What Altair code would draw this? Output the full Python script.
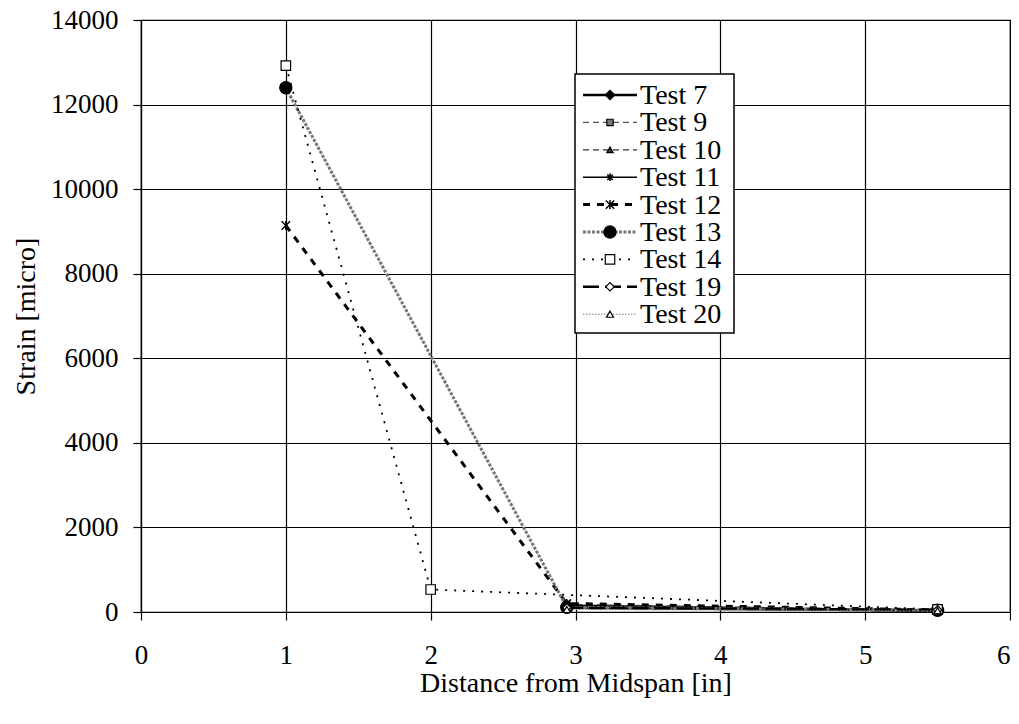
import altair as alt
import pandas as pd

# ---- data ----
series = ["Test 7", "Test 9", "Test 10", "Test 11", "Test 12",
          "Test 13", "Test 14", "Test 19", "Test 20"]

dist = {
    "Test 7": [2.94, 5.5],
    "Test 9": [2.94, 5.5],
    "Test 10": [2.94, 5.5],
    "Test 11": [2.94, 5.5],
    "Test 12": [1.0, 2.94, 5.5],
    "Test 13": [1.0, 2.94, 5.5],
    "Test 14": [1.0, 2.0, 5.5],
    "Test 19": [2.94, 5.5],
    "Test 20": [2.94, 5.5],
}
strain = {
    "Test 7": [150, 30],
    "Test 9": [120, 60],
    "Test 10": [180, 40],
    "Test 11": [90, 20],
    "Test 12": [9140, 200, 50],
    "Test 13": [12400, 110, 40],
    "Test 14": [12920, 532, 60],
    "Test 19": [100, 50],
    "Test 20": [60, 30],
}

x_ticks = [0, 1, 2, 3, 4, 5, 6]
y_ticks = [0, 2000, 4000, 6000, 8000, 10000, 12000, 14000]

FONT = "Liberation Serif"

ASTER = "M-1,0L1,0M0,-1L0,1M-0.7,-0.7L0.7,0.7M-0.7,0.7L0.7,-0.7"
XSTAR = "M-1,-1L1,1M-1,1L1,-1M0,-1.1L0,1.1"

styles = {
    "Test 7": dict(color="black", width=2.5, dash=[1, 0], shape="diamond", fill="black", size=90),
    "Test 9": dict(color="#555555", width=1.3, dash=[6, 4], shape="square", fill="#777777", size=40),
    "Test 10": dict(color="#333333", width=1.3, dash=[6, 4], shape="triangle-up", fill="#333333", size=40),
    "Test 11": dict(color="black", width=1.5, dash=[1, 0], shape=ASTER, fill=None, size=60),
    "Test 12": dict(color="black", width=3, dash=[7, 7], shape=XSTAR, fill=None, size=70),
    "Test 13": dict(color="#777777", width=3, dash=[3, 1.5], shape="circle", fill="black", size=150),
    "Test 14": dict(color="black", width=1.8, dash=[2, 7], shape="square", fill="white", size=90),
    "Test 19": dict(color="black", width=2.5, dash=[16, 6], shape="diamond", fill="white", size=70),
    "Test 20": dict(color="#777777", width=1, dash=[1.5, 1.5], shape="triangle-up", fill="white", size=50),
}

rows = []
for s in series:
    for d, v in zip(dist[s], strain[s]):
        rows.append({"series": s, "dist": d, "strain": v})
df = pd.DataFrame(rows)

xscale = alt.Scale(domain=[0, 6], nice=False, zero=False)
yscale = alt.Scale(domain=[0, 14000], nice=False)

xaxis = alt.Axis(values=x_ticks, format="d", title="Distance from Midspan [in]",
                 labelPadding=22, titlePadding=1, tickSize=8,
                 labelAlign={"condition": {"test": "datum.value >= 6", "value": "right"},
                             "value": "center"})
yaxis = alt.Axis(values=y_ticks, format="d", title="Strain [micro]",
                 labelPadding=15, titlePadding=10, tickSize=8)

X = alt.X("dist:Q", scale=xscale, axis=xaxis)
Y = alt.Y("strain:Q", scale=yscale, axis=yaxis)

layers = []
for s in series:
    st = styles[s]
    sub = df[df.series == s]
    line = alt.Chart(sub).mark_line(color=st["color"], strokeWidth=st["width"],
                                    strokeDash=st["dash"]).encode(x=X, y=Y)
    if st["fill"] is None:
        pt = alt.Chart(sub).mark_point(shape=st["shape"], size=st["size"], stroke="black",
                                       strokeWidth=1.5, filled=False, opacity=1)
    else:
        pt = alt.Chart(sub).mark_point(shape=st["shape"], size=st["size"], stroke="black",
                                       strokeWidth=1.2, fill=st["fill"], filled=True, opacity=1)
    pt = pt.encode(x=X, y=Y)
    layers += [line, pt]

# ---- legend (drawn in pixel space, upper middle) ----
leg_x0, leg_x1, leg_y0, leg_y1 = 434, 593, 54, 313
box = alt.Chart(pd.DataFrame({"a": [0]})).mark_rect(
    fill="white", stroke="black", strokeWidth=1.5
).encode(x=alt.value(leg_x0), x2=alt.value(leg_x1), y=alt.value(leg_y0), y2=alt.value(leg_y1))
layers.append(box)

for i, s in enumerate(series):
    st = styles[s]
    yy = 75 + 27.4 * i
    one = pd.DataFrame({"series": [s]})
    seg = alt.Chart(one).mark_rule(color=st["color"], strokeWidth=st["width"],
                                   strokeDash=st["dash"]).encode(
        x=alt.value(442), x2=alt.value(496), y=alt.value(yy))
    if st["fill"] is None:
        mk = alt.Chart(one).mark_point(shape=st["shape"], size=st["size"], stroke="black",
                                       strokeWidth=1.5, filled=False, opacity=1)
    else:
        mk = alt.Chart(one).mark_point(shape=st["shape"], size=st["size"], stroke="black",
                                       strokeWidth=1.2, fill=st["fill"], filled=True, opacity=1)
    mk = mk.encode(x=alt.value(469), y=alt.value(yy))
    txt = alt.Chart(one).mark_text(align="left", baseline="middle", font=FONT,
                                   fontSize=28, color="black").encode(
        x=alt.value(499), y=alt.value(yy + 1), text="series:N")
    layers += [seg, mk, txt]

chart = alt.layer(*layers).properties(
    width=869, height=592,
    padding={"left": 133, "top": 12, "right": 1, "bottom": 96},
    autosize=alt.AutoSizeParams(type="none"),
).configure_axis(
    labelFont=FONT, titleFont=FONT, labelFontSize=27, titleFontSize=28,
    labelColor="black", titleColor="black", titleFontWeight="normal",
    grid=True, gridColor="black", gridWidth=1.2, gridOpacity=1,
    domainColor="black", domainWidth=1.2, tickColor="black", tickWidth=1.2,
).configure_view(stroke="black", strokeWidth=1.2)

chart.save("out.html", embed_options={"renderer": "svg", "actions": False})
